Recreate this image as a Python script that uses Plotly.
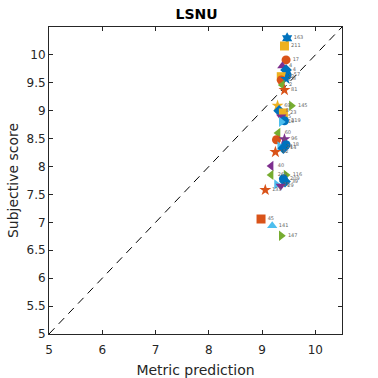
import plotly.graph_objects as go

labels = ["163", "211", "17", "4", "4", "57", "12", "7", "3", "2", "81",
          "69", "145", "8", "23", "5", "219", "19",
          "60", "6", "96", "18", "24", "14", "82",
          "40", "261", "116", "209", "39", "25", "29", "133",
          "45", "141", "147"]
metric = [9.47, 9.42, 9.45, 9.38, 9.45, 9.47, 9.36, 9.36, 9.45, 9.38, 9.42,
          9.29, 9.55, 9.32, 9.40, 9.36, 9.42, 9.36,
          9.30, 9.27, 9.42, 9.45, 9.33, 9.40, 9.25,
          9.17, 9.17, 9.45, 9.40, 9.43, 9.27, 9.35, 9.06,
          8.98, 9.19, 9.36]
subjective = [10.30, 10.16, 9.91, 9.80, 9.73, 9.64, 9.61, 9.55, 9.57, 9.46, 9.37,
              9.09, 9.09, 9.00, 8.96, 8.89, 8.82, 8.80,
              8.60, 8.48, 8.49, 8.39, 8.36, 8.33, 8.26,
              8.01, 7.85, 7.85, 7.78, 7.73, 7.68, 7.65, 7.58,
              7.06, 6.94, 6.76]

C = ["#0072BD", "#D95319", "#EDB120", "#7E2F8E", "#77AC30", "#4DBEEE", "#A2142F"]
colors = [C[0], C[2], C[1], C[3], C[0], C[0], C[2], C[1], C[0], C[4], C[1],
          C[2], C[4], C[0], C[2], C[3], C[0], C[5],
          C[4], C[1], C[3], C[0], C[5], C[0], C[1],
          C[3], C[4], C[4], C[0], C[0], C[5], C[3], C[1],
          C[1], C[5], C[4]]
symbols = ["hexagram", "square", "circle", "triangle-up", "diamond", "circle", "square", "circle", "star", "triangle-left", "star",
           "star", "triangle-right", "diamond", "square", "triangle-down", "circle", "triangle-right",
           "triangle-left", "circle", "star", "circle", "triangle-right", "diamond", "star",
           "triangle-left", "triangle-left", "triangle-right", "circle", "diamond", "triangle-right", "triangle-down", "star",
           "square", "triangle-up", "triangle-right"]

fig = go.Figure()
fig.add_trace(go.Scatter(x=[5, 10.5], y=[5, 10.5], mode="lines",
                         line=dict(color="black", width=1, dash="8px,6px"),
                         showlegend=False, hoverinfo="skip"))
fig.add_trace(go.Scatter(x=metric, y=subjective, mode="markers+text",
                         marker=dict(color=colors, symbol=symbols, size=9, line=dict(width=0)),
                         text=labels, textposition="middle right",
                         textfont=dict(size=5, color="#666666", family="DejaVu Sans"),
                         showlegend=False))

axis_common = dict(showline=True, linecolor="#262626", linewidth=1, mirror="ticks",
                   ticks="inside", ticklen=4, tickcolor="#262626", showgrid=False,
                   zeroline=False, automargin=False,
                   tickfont=dict(size=12, color="#262626", family="DejaVu Sans"))
fig.update_xaxes(range=[5, 10.5], tickvals=[5, 6, 7, 8, 9, 10], ticklabelstandoff=5,
                 title=dict(text="Metric prediction", font=dict(size=14, color="#262626"), standoff=8),
                 **axis_common)
fig.update_yaxes(range=[5, 10.5], tickvals=[5, 5.5, 6, 6.5, 7, 7.5, 8, 8.5, 9, 9.5, 10],
                 ticktext=["5", "5.5", "6", "6.5", "7", "7.5", "8", "8.5", "9", "9.5", "10"],
                 title=dict(text="Subjective score", font=dict(size=14, color="#262626"), standoff=4),
                 **axis_common)
fig.update_layout(width=378, height=378, margin=dict(l=49, r=36, t=27, b=44),
                  paper_bgcolor="white", plot_bgcolor="white",
                  font=dict(family="DejaVu Sans", color="#262626"),
                  title=dict(text="<b>LSNU</b>", x=0.52, xanchor="center", y=0.962, yanchor="middle",
                             font=dict(size=14, color="black")))
fig.write_html("out.html", config={"displayModeBar": False},
               post_script="document.body.style.margin='0px';")
